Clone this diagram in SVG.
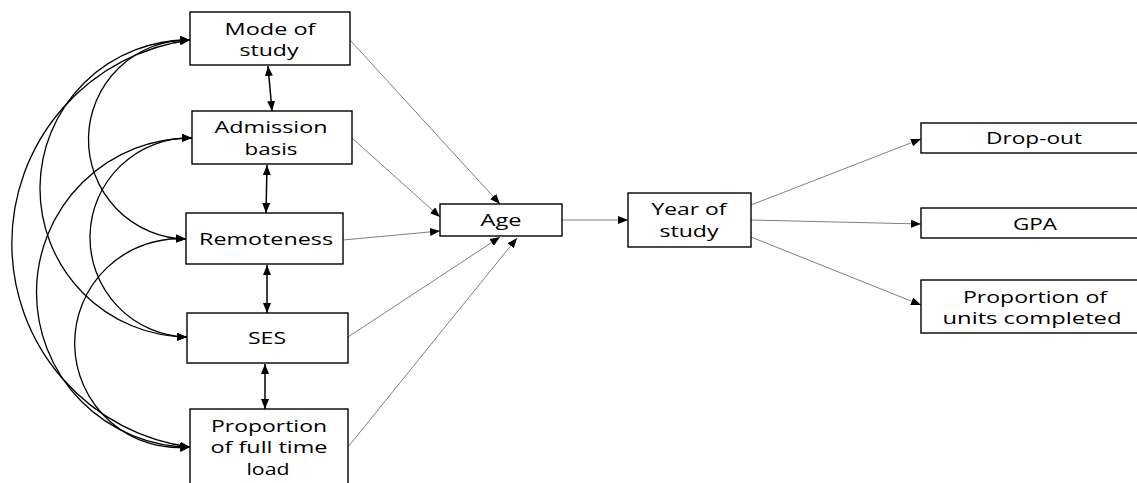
<svg xmlns="http://www.w3.org/2000/svg" width="1137" height="483" viewBox="0 0 1137 483">
<style>
.box{fill:#fff;stroke:#000;stroke-width:1.4}
.t{font-family:"Open Sans","Liberation Sans",sans-serif;font-size:17px;fill:#000;text-anchor:middle}
.curve{fill:none;stroke:#000;stroke-width:1.3}
.v{fill:none;stroke:#000;stroke-width:1.5}
.g{fill:none;stroke:#808080;stroke-width:1}
</style>
<defs>
<marker id="ah" markerUnits="userSpaceOnUse" markerWidth="11" markerHeight="8" refX="10" refY="4" orient="auto-start-reverse">
<path d="M0,0 L10,4 L0,8 z" fill="#000"/>
</marker>
</defs>
<g id="connectors">
<path class="curve" d="M190,40 A1,1 0 0,0 186,239" marker-start="url(#ah)" marker-end="url(#ah)"/>
<path class="curve" d="M190,40 A1,1 0 0,0 187,337" marker-start="url(#ah)" marker-end="url(#ah)"/>
<path class="curve" d="M190,40 A205.3,205.3 0 0,0 190,447" marker-start="url(#ah)" marker-end="url(#ah)"/>
<path class="curve" d="M192,138 A1,1 0 0,0 187,337" marker-start="url(#ah)" marker-end="url(#ah)"/>
<path class="curve" d="M192,138 A1,1 0 0,0 190,447" marker-start="url(#ah)" marker-end="url(#ah)"/>
<path class="curve" d="M186,239 A104.4,104.4 0 1,0 190,447" marker-start="url(#ah)" marker-end="url(#ah)"/>
<path class="v" d="M268,66 L272,111" marker-start="url(#ah)" marker-end="url(#ah)"/>
<path class="v" d="M267,165 L266,213" marker-start="url(#ah)" marker-end="url(#ah)"/>
<path class="v" d="M267,265 L267,313" marker-start="url(#ah)" marker-end="url(#ah)"/>
<path class="v" d="M265,364 L265,409" marker-start="url(#ah)" marker-end="url(#ah)"/>
<path class="g" d="M350,40 L500,204" marker-end="url(#ah)"/>
<path class="g" d="M352,138 L440,217" marker-end="url(#ah)"/>
<path class="g" d="M343,240 L440,231" marker-end="url(#ah)"/>
<path class="g" d="M348,337 L500,237" marker-end="url(#ah)"/>
<path class="g" d="M348,447 L517,238" marker-end="url(#ah)"/>
<path class="g" d="M562,220 L628,220" marker-end="url(#ah)"/>
<path class="g" d="M751,205 L921,139" marker-end="url(#ah)"/>
<path class="g" d="M751,220 L921,224" marker-end="url(#ah)"/>
<path class="g" d="M751,237 L921,305" marker-end="url(#ah)"/>
</g>
<g id="mode">
<rect class="box" x="190" y="12" width="160" height="53"/>
<text class="t" x="270" y="35" textLength="91" lengthAdjust="spacingAndGlyphs">Mode of</text>
<text class="t" x="269" y="56" textLength="59" lengthAdjust="spacingAndGlyphs">study</text>
</g>
<g id="admission">
<rect class="box" x="192" y="111" width="160" height="53"/>
<text class="t" x="271" y="133" textLength="113" lengthAdjust="spacingAndGlyphs">Admission</text>
<text class="t" x="271" y="155" textLength="53" lengthAdjust="spacingAndGlyphs">basis</text>
</g>
<g id="remoteness">
<rect class="box" x="186" y="213" width="157" height="51"/>
<text class="t" x="266" y="245" textLength="134" lengthAdjust="spacingAndGlyphs">Remoteness</text>
</g>
<g id="ses">
<rect class="box" x="187" y="313" width="161" height="50"/>
<text class="t" x="267" y="344" textLength="38" lengthAdjust="spacingAndGlyphs">SES</text>
</g>
<g id="proportion">
<rect class="box" x="190" y="409" width="158" height="82"/>
<text class="t" x="269" y="432" textLength="116" lengthAdjust="spacingAndGlyphs">Proportion</text>
<text class="t" x="269" y="453" textLength="117" lengthAdjust="spacingAndGlyphs">of full time</text>
<text class="t" x="268" y="475" textLength="43" lengthAdjust="spacingAndGlyphs">load</text>
</g>
<g id="age">
<rect class="box" x="440" y="204" width="122" height="32"/>
<text class="t" x="501" y="226" textLength="41" lengthAdjust="spacingAndGlyphs">Age</text>
</g>
<g id="year">
<rect class="box" x="628" y="193" width="123" height="54"/>
<text class="t" x="689" y="215" textLength="75" lengthAdjust="spacingAndGlyphs">Year of</text>
<text class="t" x="689" y="237" textLength="59" lengthAdjust="spacingAndGlyphs">study</text>
</g>
<g id="dropout">
<rect class="box" x="921" y="123" width="226" height="30"/>
<text class="t" x="1034" y="144" textLength="96" lengthAdjust="spacingAndGlyphs">Drop-out</text>
</g>
<g id="gpa">
<rect class="box" x="921" y="208" width="226" height="30"/>
<text class="t" x="1035" y="230" textLength="44" lengthAdjust="spacingAndGlyphs">GPA</text>
</g>
<g id="units">
<rect class="box" x="921" y="280" width="226" height="53"/>
<text class="t" x="1035" y="303" textLength="144" lengthAdjust="spacingAndGlyphs">Proportion of</text>
<text class="t" x="1032" y="324" textLength="179" lengthAdjust="spacingAndGlyphs">units completed</text>
</g>
</svg>
